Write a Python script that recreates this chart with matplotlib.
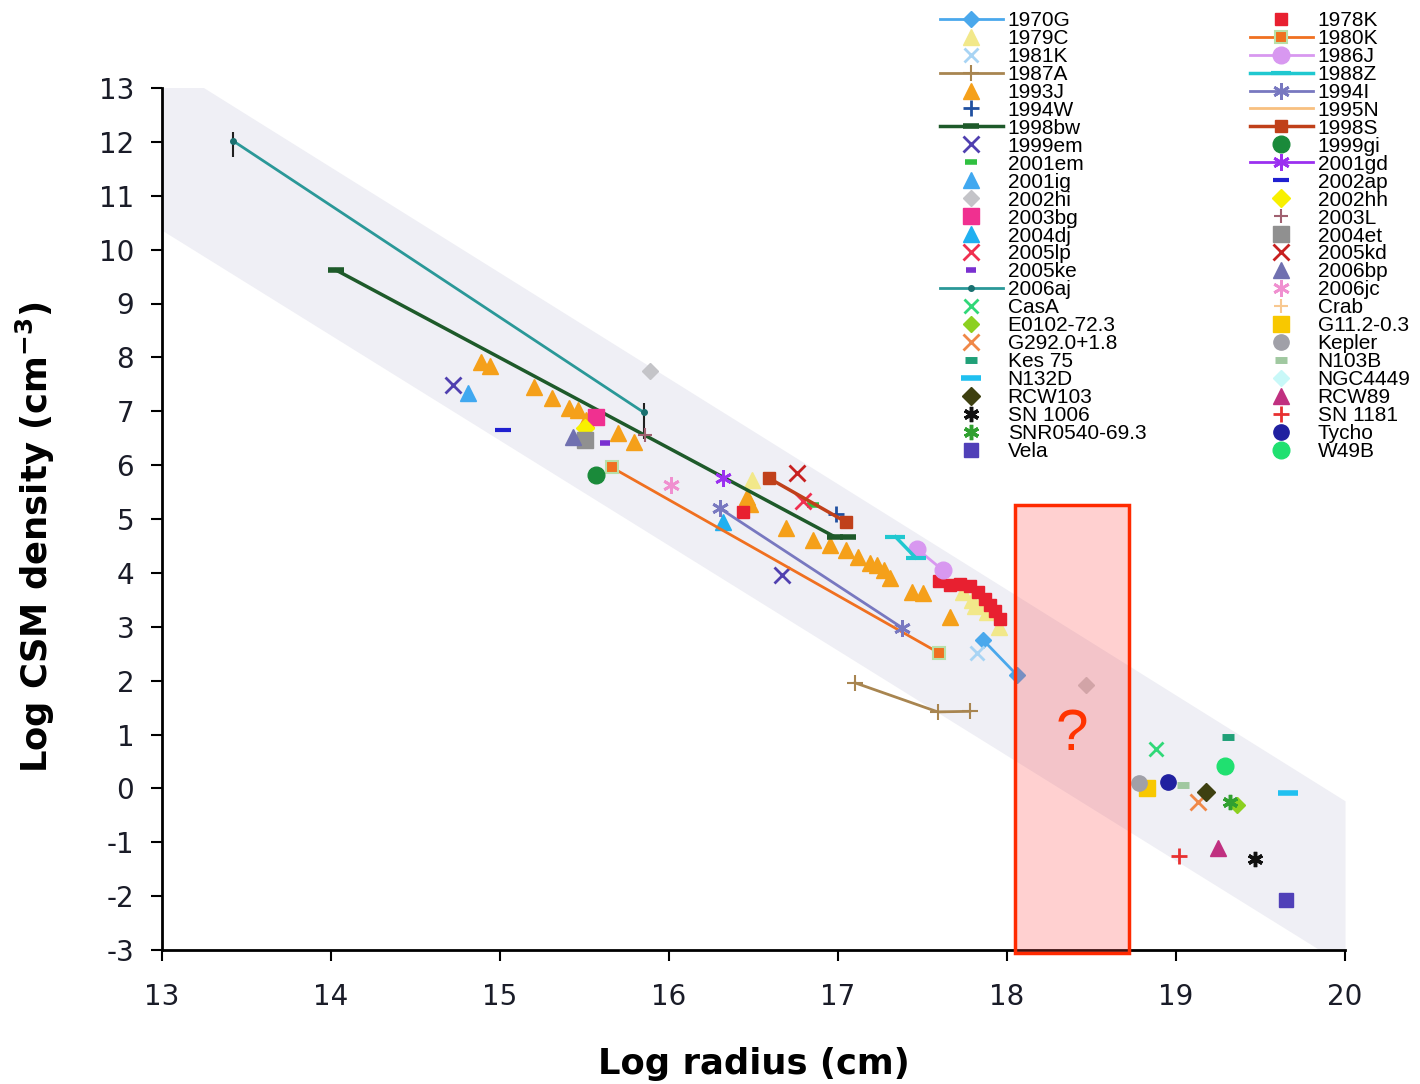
import matplotlib
matplotlib.use("Agg")
import matplotlib.pyplot as plt
from matplotlib.patches import Rectangle

plt.rcParams["axes.unicode_minus"] = False

# ---------------- data: log radius (cm) / log CSM density (cm^-3) ----------------
r_1970G, d_1970G = [17.86, 18.06], [2.75, 2.10]
r_1979C, d_1979C = [16.49, 17.74, 17.79, 17.84, 17.81, 17.88, 17.95], [5.72, 3.64, 3.50, 3.44, 3.38, 3.27, 3.00]
r_1981K, d_1981K = [17.82], [2.51]
r_1987A, d_1987A = [17.10, 17.59, 17.78], [1.96, 1.42, 1.43]
r_1993J = [14.89, 14.94, 15.20, 15.31, 15.41, 15.46, 15.51, 15.70, 15.79, 16.46, 16.48,
           16.69, 16.85, 16.95, 17.05, 17.12, 17.19, 17.23, 17.27, 17.31, 17.44, 17.50, 17.66]
d_1993J = [7.91, 7.84, 7.45, 7.25, 7.06, 7.02, 6.84, 6.60, 6.43, 5.40, 5.28,
           4.83, 4.61, 4.52, 4.42, 4.29, 4.18, 4.15, 4.05, 3.91, 3.65, 3.63, 3.18]
r_1994W, d_1994W = [16.99], [5.09]
r_1998bw, d_1998bw = [14.03, 16.98, 17.06], [9.62, 4.67, 4.67]
r_1999em, d_1999em = [14.72, 16.67], [7.49, 3.96]
r_2001em, d_2001em = [16.85], [5.26]
r_2001ig, d_2001ig = [14.81], [7.34]
r_2002hi, d_2002hi = [15.89, 18.47], [7.75, 1.92]
r_2003bg, d_2003bg = [15.57], [6.89]
r_2004dj, d_2004dj = [16.32], [4.95]
r_2005lp, d_2005lp = [16.79], [5.33]
r_2005ke, d_2005ke = [15.62], [6.41]
r_2006aj, d_2006aj = [13.42, 15.85], [12.02, 6.98]
err_lo_2006aj, err_hi_2006aj = [0.30, 0.50], [0.17, 0.18]
r_CasA, d_CasA = [18.88], [0.73]
r_E0102, d_E0102 = [19.36], [-0.31]
r_G292, d_G292 = [19.13], [-0.25]
r_Kes75, d_Kes75 = [19.31], [0.95]
r_N132D, d_N132D = [19.66], [-0.09]
r_RCW103, d_RCW103 = [19.18], [-0.07]
r_SN1006, d_SN1006 = [19.47], [-1.31]
r_SNR0540, d_SNR0540 = [19.32], [-0.25]
r_Vela, d_Vela = [19.65], [-2.07]

r_1978K = [16.44, 17.60, 17.66, 17.72, 17.78, 17.83, 17.87, 17.90, 17.93, 17.96]
d_1978K = [5.13, 3.85, 3.78, 3.80, 3.75, 3.65, 3.52, 3.40, 3.30, 3.15]
r_1980K, d_1980K = [15.66, 17.60], [5.96, 2.51]
r_1986J, d_1986J = [17.47, 17.62], [4.44, 4.05]
r_1988Z, d_1988Z = [17.34, 17.46], [4.67, 4.28]
r_1994I, d_1994I = [16.30, 17.38], [5.20, 2.98]
r_1995N, d_1995N = [], []
r_1998S, d_1998S = [16.59, 17.05], [5.76, 4.94]
r_1999gi, d_1999gi = [15.57], [5.82]
r_2001gd, d_2001gd = [16.32], [5.76]
r_2002ap, d_2002ap = [15.02], [6.65]
r_2002hh, d_2002hh = [15.50], [6.68]
r_2003L, d_2003L = [15.86], [6.55]
r_2004et, d_2004et = [15.50], [6.47]
r_2005kd, d_2005kd = [16.76], [5.85]
r_2006bp, d_2006bp = [15.43], [6.52]
r_2006jc, d_2006jc = [16.01], [5.63]
r_Crab, d_Crab = [], []
r_G11, d_G11 = [18.83], [0.01]
r_Kepler, d_Kepler = [18.78], [0.10]
r_N103B, d_N103B = [19.04], [0.06]
r_NGC4449, d_NGC4449 = [], []
r_RCW89, d_RCW89 = [19.25], [-1.11]
r_SN1181, d_SN1181 = [19.02], [-1.26]
r_Tycho, d_Tycho = [18.95], [0.12]
r_W49B, d_W49B = [19.29], [0.42]

# shaded trend band (edges at x = 13 and x = 20)
band_x = [13.0, 20.0]
band_upper = [13.49, -0.23]
band_lower = [10.36, -3.29]

# highlighted gap in radius
gap_r = [18.05, 18.72]
gap_d = [-3.06, 5.26]

x_ticks = list(range(13, 21))
y_ticks = list(range(-3, 14))

# ---------------- styles ----------------
AST = (6, 2, 0)  # six-armed asterisk

left_col = [
    ("1970G", r_1970G, d_1970G, dict(color="#4AA8EC", marker="D", ms=8, ls="-", lw=2)),
    ("1979C", r_1979C, d_1979C, dict(color="#F2E88A", marker="^", ms=12, ls="none")),
    ("1981K", r_1981K, d_1981K, dict(color="#A8D4F4", marker="x", ms=10, mew=2, ls="none")),
    ("1987A", r_1987A, d_1987A, dict(color="#A88550", marker="+", ms=12, mew=1.5, ls="-", lw=2)),
    ("1993J", r_1993J, d_1993J, dict(color="#F5A01A", marker="^", ms=12, ls="none")),
    ("1994W", r_1994W, d_1994W, dict(color="#2050A0", marker="+", ms=12, mew=2, ls="none")),
    ("1998bw", r_1998bw, d_1998bw, dict(color="#1E5A2A", marker="_", ms=12, mew=4, ls="-", lw=2.5)),
    ("1999em", r_1999em, d_1999em, dict(color="#5040B0", marker="x", ms=11, mew=2, ls="none")),
    ("2001em", r_2001em, d_2001em, dict(color="#30C040", marker="_", ms=8, mew=4, ls="none")),
    ("2001ig", r_2001ig, d_2001ig, dict(color="#40A8F0", marker="^", ms=11, ls="none")),
    ("2002hi", r_2002hi, d_2002hi, dict(color="#C4C4C8", marker="D", ms=8, ls="none")),
    ("2003bg", r_2003bg, d_2003bg, dict(color="#F03090", marker="s", ms=12, ls="none")),
    ("2004dj", r_2004dj, d_2004dj, dict(color="#20B0F0", marker="^", ms=12, ls="none")),
    ("2005lp", r_2005lp, d_2005lp, dict(color="#F03050", marker="x", ms=11, mew=2, ls="none")),
    ("2005ke", r_2005ke, d_2005ke, dict(color="#7A30D0", marker="_", ms=7, mew=4, ls="none")),
    ("2006aj", r_2006aj, d_2006aj, dict(color="#2A9898", marker="o", ms=4, mfc="#1A7070", mec="#1A7070", ls="-", lw=2)),
    ("CasA", r_CasA, d_CasA, dict(color="#30D878", marker="x", ms=10, mew=2, ls="none")),
    ("E0102-72.3", r_E0102, d_E0102, dict(color="#8CD020", marker="D", ms=8, ls="none")),
    ("G292.0+1.8", r_G292, d_G292, dict(color="#F08848", marker="x", ms=11, mew=2, ls="none")),
    ("Kes 75", r_Kes75, d_Kes75, dict(color="#20A078", marker="_", ms=8, mew=5, ls="none")),
    ("N132D", r_N132D, d_N132D, dict(color="#20C0F0", marker="_", ms=14, mew=4, ls="none")),
    ("RCW103", r_RCW103, d_RCW103, dict(color="#3E4010", marker="D", ms=9, ls="none")),
    ("SN 1006", r_SN1006, d_SN1006, dict(color="#101010", marker=AST, ms=11, mew=2.5, ls="none")),
    ("SNR0540-69.3", r_SNR0540, d_SNR0540, dict(color="#30A030", marker=AST, ms=11, mew=2.5, ls="none")),
    ("Vela", r_Vela, d_Vela, dict(color="#5040B8", marker="s", ms=10, ls="none")),
]

right_col = [
    ("1978K", r_1978K, d_1978K, dict(color="#E82030", marker="s", ms=9, ls="none")),
    ("1980K", r_1980K, d_1980K, dict(color="#F07020", marker="s", ms=9, mec="#B8E0A8", mew=1.5, ls="-", lw=2)),
    ("1986J", r_1986J, d_1986J, dict(color="#D898F0", marker="o", ms=12, ls="-", lw=2)),
    ("1988Z", r_1988Z, d_1988Z, dict(color="#20C8D0", marker="_", ms=14, mew=3, ls="-", lw=2.5)),
    ("1994I", r_1994I, d_1994I, dict(color="#7878C0", marker=AST, ms=12, mew=2, ls="-", lw=2)),
    ("1995N", r_1995N, d_1995N, dict(color="#F8C080", ls="-", lw=2)),
    ("1998S", r_1998S, d_1998S, dict(color="#C0401A", marker="s", ms=9, ls="-", lw=2.5)),
    ("1999gi", r_1999gi, d_1999gi, dict(color="#1A8A3A", marker="o", ms=12, ls="none")),
    ("2001gd", r_2001gd, d_2001gd, dict(color="#9B30F0", marker=AST, ms=12, mew=2, ls="-", lw=2)),
    ("2002ap", r_2002ap, d_2002ap, dict(color="#2020D0", marker="_", ms=12, mew=3, ls="none")),
    ("2002hh", r_2002hh, d_2002hh, dict(color="#F8F000", marker="D", ms=9, ls="none")),
    ("2003L", r_2003L, d_2003L, dict(color="#A06070", marker="+", ms=10, mew=1.5, ls="none")),
    ("2004et", r_2004et, d_2004et, dict(color="#909090", marker="s", ms=12, ls="none")),
    ("2005kd", r_2005kd, d_2005kd, dict(color="#C82020", marker="x", ms=11, mew=2, ls="none")),
    ("2006bp", r_2006bp, d_2006bp, dict(color="#7070B0", marker="^", ms=12, ls="none")),
    ("2006jc", r_2006jc, d_2006jc, dict(color="#F090D0", marker=AST, ms=12, mew=2, ls="none")),
    ("Crab", r_Crab, d_Crab, dict(color="#F8C890", marker="+", ms=10, mew=1.5, ls="none")),
    ("G11.2-0.3", r_G11, d_G11, dict(color="#F8C800", marker="s", ms=11, ls="none")),
    ("Kepler", r_Kepler, d_Kepler, dict(color="#A0A0A8", marker="o", ms=11, ls="none")),
    ("N103B", r_N103B, d_N103B, dict(color="#A0C8A0", marker="_", ms=8, mew=5, ls="none")),
    ("NGC4449", r_NGC4449, d_NGC4449, dict(color="#C8F8F8", marker="D", ms=8, ls="none")),
    ("RCW89", r_RCW89, d_RCW89, dict(color="#C03080", marker="^", ms=12, ls="none")),
    ("SN 1181", r_SN1181, d_SN1181, dict(color="#E83030", marker="+", ms=11, mew=2, ls="none")),
    ("Tycho", r_Tycho, d_Tycho, dict(color="#2020A0", marker="o", ms=11, ls="none")),
    ("W49B", r_W49B, d_W49B, dict(color="#20E070", marker="o", ms=12, ls="none")),
]

# ---------------- figure ----------------
fig = plt.figure(figsize=(14.2, 10.84), dpi=100)
ax = fig.add_axes([162 / 1420, 1 - 950 / 1084, (1345 - 162) / 1420, (950 - 88) / 1084])

ax.fill_between(band_x, band_lower, band_upper, color="#EFEFF5", lw=0, zorder=0)

# vertical error bars on 2006aj
ax.errorbar(r_2006aj, d_2006aj, yerr=[err_lo_2006aj, err_hi_2006aj], fmt="none",
            ecolor="#202020", elinewidth=1.5, capsize=0, zorder=3)

handles_left, handles_right = [], []
for col, store in ((left_col, handles_left), (right_col, handles_right)):
    for name, rx, dy, st in col:
        h, = ax.plot(rx, dy, label=name, zorder=4, **st)
        store.append(h)

# highlighted gap with a question mark
ax.add_patch(Rectangle((gap_r[0], gap_d[0]), gap_r[1] - gap_r[0], gap_d[1] - gap_d[0],
                       facecolor=(1.0, 0.28, 0.28, 0.25), edgecolor="#FF2A00",
                       lw=2.5, zorder=6, clip_on=False))
ax.text(sum(gap_r) / 2, 1.0, "?", color="#FF3300", fontsize=42, family="Liberation Sans",
        ha="center", va="center", zorder=7)

ax.set_xlim(13, 20)
ax.set_ylim(-3, 13)
ax.set_xticks(x_ticks)
ax.set_yticks(y_ticks)
for s in ("top", "right"):
    ax.spines[s].set_visible(False)
for s in ("left", "bottom"):
    ax.spines[s].set_linewidth(2)
ax.tick_params(direction="out", length=8, width=1.5, labelsize=20,
               labelcolor="#1A1C28", pad=12)
ax.tick_params(axis="x", pad=16)

ax.set_xlabel("Log radius (cm)", fontsize=25.5, fontweight="bold", labelpad=26)
ax.set_ylabel(r"Log CSM density (cm$^{\mathbf{-3}}$)", fontsize=25.5, fontweight="bold")
ax.yaxis.set_label_coords(-0.089, 0.479)

leg_font = dict(family="Liberation Sans", size=15)
leg_kw = dict(frameon=False, loc="upper left", borderpad=0, borderaxespad=0,
              handlelength=3.0, handletextpad=0.25, labelspacing=-0.05, prop=leg_font,
              numpoints=1, bbox_transform=fig.transFigure)
leg1 = ax.legend(handles=handles_left, bbox_to_anchor=(940 / 1420, 1 - 11 / 1084), **leg_kw)
ax.add_artist(leg1)
ax.legend(handles=handles_right, bbox_to_anchor=(1250 / 1420, 1 - 11 / 1084), **leg_kw)

fig.savefig("out.png", dpi=100)
